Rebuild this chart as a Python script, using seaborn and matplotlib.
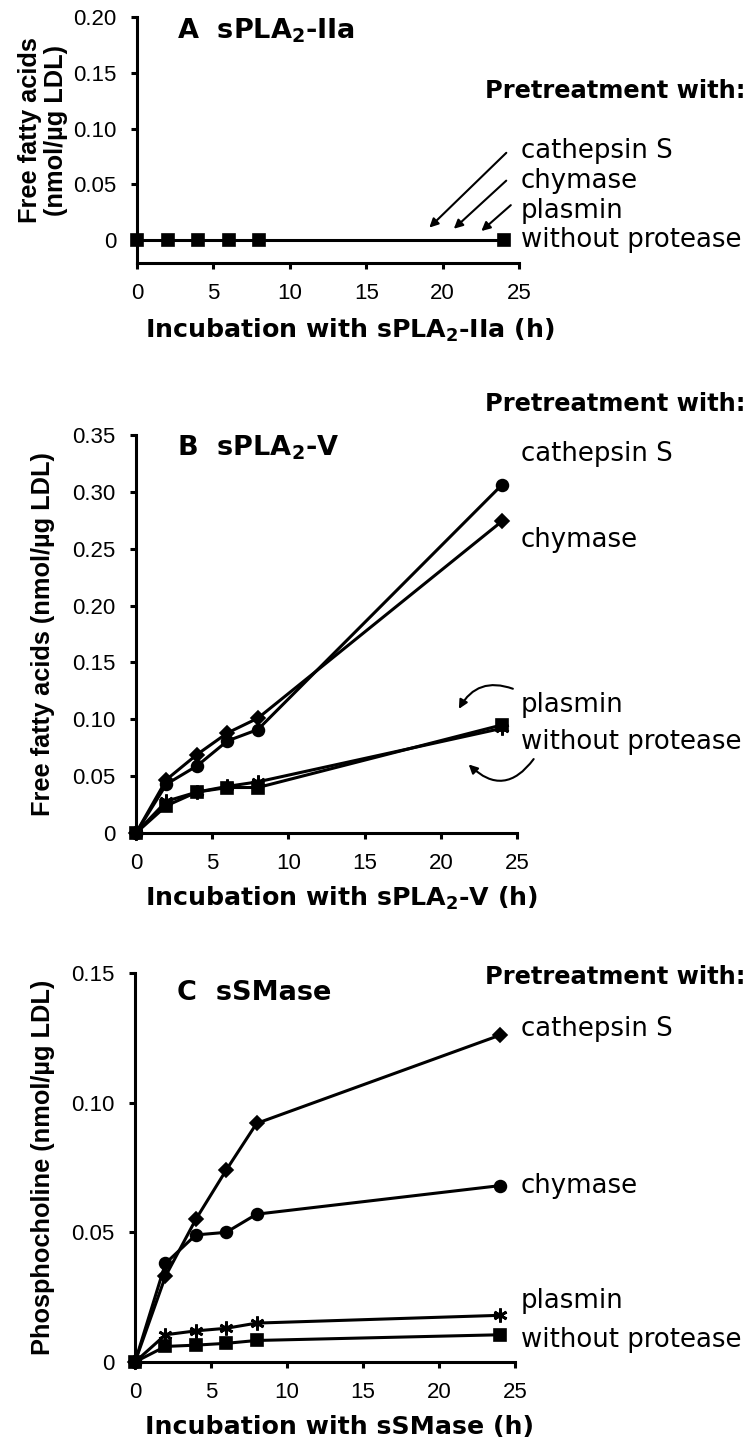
import numpy as np
import pandas as pd
import matplotlib
matplotlib.use('Agg')
import matplotlib.pyplot as plt
import matplotlib.transforms as mtransforms
import seaborn as sns
from matplotlib.patches import FancyArrowPatch

# ---------------- data ----------------
hours = [0, 2, 4, 6, 8, 24]

a_without = [0, 0, 0, 0, 0, 0]

b_cathepsin = [0, 0.043, 0.059, 0.081, 0.091, 0.306]
b_chymase = [0, 0.047, 0.069, 0.088, 0.101, 0.274]
b_plasmin = [0, 0.028, 0.036, 0.041, 0.045, 0.092]
b_without = [0, 0.024, 0.036, 0.040, 0.040, 0.095]

c_cathepsin = [0, 0.033, 0.055, 0.074, 0.092, 0.126]
c_chymase = [0, 0.038, 0.049, 0.050, 0.057, 0.068]
c_plasmin = [0, 0.0105, 0.012, 0.013, 0.015, 0.018]
c_without = [0, 0.006, 0.0065, 0.0072, 0.0083, 0.0105]

a_yticks = [0, 0.05, 0.10, 0.15, 0.20]
a_yticklabels = ['0', '0.05', '0.10', '0.15', '0.20']
b_yticks = [0, 0.05, 0.10, 0.15, 0.20, 0.25, 0.30, 0.35]
b_yticklabels = ['0', '0.05', '0.10', '0.15', '0.20', '0.25', '0.30', '0.35']
c_yticks = [0, 0.05, 0.10, 0.15]
c_yticklabels = ['0', '0.05', '0.10', '0.15']
xticks = [0, 5, 10, 15, 20, 25]

legend_names = ['cathepsin S', 'chymase', 'plasmin', 'without protease']

# ---------------- style ----------------
sns.set_style('ticks')
plt.rcParams['font.family'] = ['Liberation Sans', 'DejaVu Sans']
plt.rcParams['mathtext.fontset'] = 'custom'
plt.rcParams['mathtext.rm'] = 'DejaVu Sans'
plt.rcParams['mathtext.bf'] = 'DejaVu Sans:bold'
plt.rcParams['mathtext.it'] = 'DejaVu Sans:italic'
for k in ['text.color', 'axes.labelcolor', 'xtick.color', 'ytick.color',
          'axes.edgecolor']:
    plt.rcParams[k] = 'black'

LW = 2.2
TICKFS = 16
XLAB = dict(fontsize=18.2, fontweight='bold', family=['DejaVu Sans'], color='black')
PRE = dict(fontsize=17.4, fontweight='bold', family=['DejaVu Sans'], color='black')
TIT = dict(fontsize=19.5, fontweight='bold', family=['DejaVu Sans'], color='black')
VBOLD = dict(fontsize=18.3, fontweight='bold', family=['Liberation Sans', 'DejaVu Sans'],
             color='black')
LEG = dict(fontsize=18.7, family=['DejaVu Sans'], color='black')

W, H = 749, 1444
fig = plt.figure(figsize=(W / 100, H / 100), dpi=100)


def rect(left, right, top, bottom):
    return [left / W, 1 - bottom / H, (right - left) / W, (bottom - top) / H]


axA = fig.add_axes(rect(137, 519, 17, 263))
axB = fig.add_axes(rect(136, 517, 435, 833))
axC = fig.add_axes(rect(135, 515, 973, 1362))


def style_axis(ax, yticks, yticklabels, ylim):
    sns.despine(ax=ax)
    for s in ['left', 'bottom']:
        ax.spines[s].set_linewidth(LW)
        ax.spines[s].set_color('black')
    ax.set_xlim(0, 25)
    ax.set_ylim(*ylim)
    ax.set_xticks(xticks)
    ax.set_xticklabels([str(t) for t in xticks], fontsize=TICKFS)
    ax.set_yticks(yticks)
    ax.set_yticklabels(yticklabels, fontsize=TICKFS)
    ax.tick_params(direction='out', length=4.5, width=LW, pad=10,
                   color='black', labelcolor='black')
    ax.patch.set_alpha(0)


def series(ax, y, marker, ms=8, mew=1.2):
    df = pd.DataFrame({'h': hours, 'v': y})
    sns.lineplot(data=df, x='h', y='v', ax=ax, color='black', lw=LW,
                 marker=marker, markersize=ms, markeredgecolor='black',
                 markerfacecolor='black', markeredgewidth=mew, clip_on=False,
                 legend=False)


def fig_x(ax):
    return mtransforms.blended_transform_factory(fig.transFigure, ax.transData)


def pretreat(ax, y):
    ax.text(485 / W, y, 'Pretreatment with:', transform=fig_x(ax), va='baseline',
            ha='left', **PRE)


def legend_labels(ax, ys):
    for name, yy in zip(legend_names, ys):
        ax.text(521 / W, yy, name, transform=fig_x(ax), va='center', ha='left', **LEG)


def title(ax, txt, y):
    ax.text(177 / W, y, txt, transform=fig_x(ax), va='baseline', ha='left', **TIT)


def xlabel(ax, txt, y_axes):
    tr = mtransforms.blended_transform_factory(fig.transFigure, ax.transAxes)
    ax.text(145 / W, y_axes, txt, transform=tr, va='top', ha='left', **XLAB)


star = (6, 2, 0)

# ---------------- panel A ----------------
series(axA, a_without, 's', 8)
style_axis(axA, a_yticks, a_yticklabels, (-0.0205, 0.20))
axA.set_xlabel('')
xlabel(axA, r'Incubation with sPLA$_{\mathbf{2}}$-IIa (h)', -0.2195)
axA.set_ylabel('Free fatty acids\n(nmol/µg LDL)', linespacing=1.1, **VBOLD)
axA.yaxis.set_label_coords(-0.181, 0.54)
title(axA, r'A  sPLA$_{\mathbf{2}}$-IIa', 0.1803)
pretreat(axA, 0.1274)
legend_labels(axA, [0.080, 0.053, 0.0265, 0.0005])
for (x0, y0, x1, y1) in [(24.3, 0.080, 19.0, 0.0095),
                         (24.3, 0.055, 20.6, 0.0085),
                         (24.6, 0.033, 22.4, 0.0065)]:
    axA.add_patch(FancyArrowPatch((x0, y0), (x1, y1), arrowstyle='-|>',
                                  mutation_scale=13, lw=1.5, color='black',
                                  clip_on=False))

# ---------------- panel B ----------------
series(axB, b_without, 's', 8)
series(axB, b_plasmin, star, 10, 2)
series(axB, b_chymase, 'D', 7.5)
series(axB, b_cathepsin, 'o', 8.5)
style_axis(axB, b_yticks, b_yticklabels, (0, 0.35))
axB.set_xlabel('')
xlabel(axB, r'Incubation with sPLA$_{\mathbf{2}}$-V (h)', -0.1307)
axB.set_ylabel('Free fatty acids (nmol/µg LDL)', **VBOLD)
axB.yaxis.set_label_coords(-0.213, 0.5)
title(axB, r'B  sPLA$_{\mathbf{2}}$-V', 0.3324)
pretreat(axB, 0.371)
legend_labels(axB, [0.333, 0.258, 0.113, 0.080])
axB.add_patch(FancyArrowPatch((24.9, 0.126), (21.1, 0.107), arrowstyle='-|>',
                              connectionstyle='arc3,rad=0.45', mutation_scale=13,
                              lw=1.5, color='black', clip_on=False))
axB.add_patch(FancyArrowPatch((26.2, 0.067), (21.7, 0.062), arrowstyle='-|>',
                              connectionstyle='arc3,rad=-0.6', mutation_scale=13,
                              lw=1.5, color='black', clip_on=False))

# ---------------- panel C ----------------
series(axC, c_without, 's', 8)
series(axC, c_plasmin, star, 10, 2)
series(axC, c_chymase, 'o', 8.5)
series(axC, c_cathepsin, 'D', 7.5)
style_axis(axC, c_yticks, c_yticklabels, (0, 0.15))
axC.set_xlabel('')
xlabel(axC, 'Incubation with sSMase (h)', -0.136)
axC.set_ylabel('Phosphocholine (nmol/µg LDL)', **VBOLD)
axC.yaxis.set_label_coords(-0.21, 0.5)
title(axC, 'C  sSMase', 0.1396)
pretreat(axC, 0.1457)
legend_labels(axC, [0.1285, 0.068, 0.0237, 0.0086])

fig.savefig('out.png', dpi=100)
